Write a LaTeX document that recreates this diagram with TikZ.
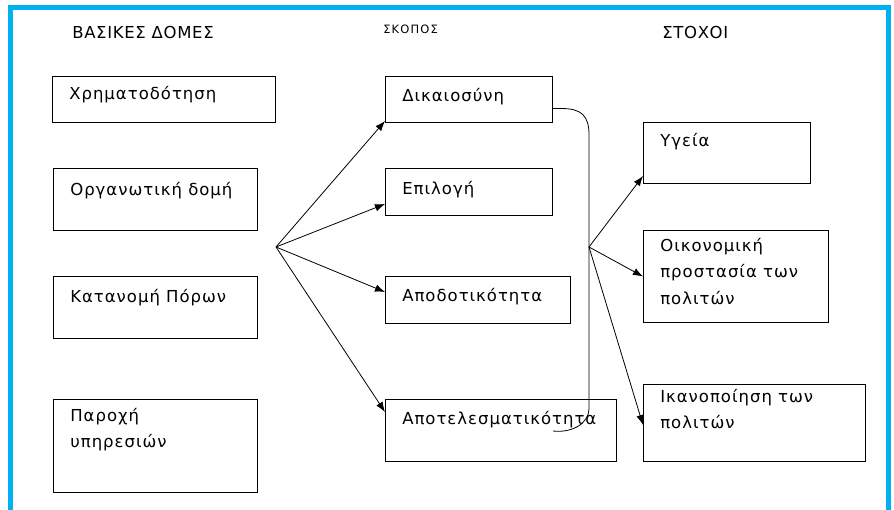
\documentclass[tikz,border=0pt]{standalone}
\usepackage{fontspec}
\setmainfont{DejaVu Sans}
\newfontfamily\boxfont[LetterSpace=6]{DejaVu Sans}
\newfontfamily\headfont[LetterSpace=4]{DejaVu Sans}
\newfontfamily\smallfont[LetterSpace=10]{DejaVu Sans}
\usetikzlibrary{arrows.meta,calc,positioning}
\definecolor{framecol}{RGB}{0,176,240}

\begin{document}
\begin{tikzpicture}[x=1pt,y=-1pt,>={Latex[length=10pt,width=7.5pt]},semithick]
\tikzstyle{box}=[draw, anchor=north west, inner sep=0pt, line width=1pt]
\tikzstyle{txt}=[anchor=north west, align=left, inner sep=0pt,
  font=\boxfont\fontsize{16.5}{26.5}\selectfont, execute at begin node=\strut]
\tikzstyle{head}=[anchor=base west, inner sep=0pt, font=\headfont\fontsize{16.5}{19}\selectfont]
\tikzstyle{arr}=[->, line width=0.8pt]

\useasboundingbox (0,0) rectangle (894,510);
\draw[framecol, line width=5pt] (10.5,515) |- (888,7.5) -- (888,515);

% headings
\node[head] (hbas) at (72,39) {ΒΑΣΙΚΕΣ ΔΟΜΕΣ};
\node[head, font=\smallfont\fontsize{11.5}{13}\selectfont] (hsko) at (383,34) {ΣΚΟΠΟΣ};
\node[head] (hsto) at (662,39) {ΣΤΟΧΟΙ};

% basic structures
\node[box, minimum width=223, minimum height=46] (xrim) at (52,76) {};
\node[box, minimum width=204, minimum height=62] (orga) at (53,168) {};
\node[box, minimum width=204, minimum height=62] (kata) at (53,276) {};
\node[box, minimum width=204, minimum height=93] (paro) at (53,399) {};
\node[txt] (xrim-t) at ($(xrim.north west)+(17,5)$) {Χρηματοδότηση};
\node[txt] (orga-t) at ($(orga.north west)+(17,9)$) {Οργανωτική δομή};
\node[txt] (kata-t) at ($(kata.north west)+(17,8)$) {Κατανομή Πόρων};
\node[txt] (paro-t) at ($(paro.north west)+(17,9)$) {Παροχή\\υπηρεσιών};

% aims
\node[box, minimum width=167, minimum height=46] (dika) at (385,76) {};
\node[box, minimum width=167, minimum height=47] (epil) at (385,168) {};
\node[box, minimum width=185, minimum height=47] (apod) at (385,276) {};
\node[box, minimum width=231, minimum height=62] (apot) at (385,399) {};
\node[txt] (dika-t) at ($(dika.north west)+(17,7)$) {Δικαιοσύνη};
\node[txt] (epil-t) at ($(epil.north west)+(17,8)$) {Επιλογή};
\node[txt] (apod-t) at ($(apod.north west)+(17,7)$) {Αποδοτικότητα};
\node[txt] (apot-t) at ($(apot.north west)+(17,7)$) {Αποτελεσματικότητα};

% goals
\node[box, minimum width=167, minimum height=61] (ygei) at (643,122) {};
\node[box, minimum width=185, minimum height=92] (oiko) at (643,230) {};
\node[box, minimum width=222, minimum height=77] (ikan) at (643,384) {};
\node[txt] (ygei-t) at ($(ygei.north west)+(17,6)$) {Υγεία};
\node[txt] (oiko-t) at ($(oiko.north west)+(17,8)$) {Οικονομική\\προστασία των\\πολιτών};
\node[txt] (ikan-t) at ($(ikan.north west)+(17,5)$) {Ικανοποίηση των\\πολιτών};

\coordinate (fan1) at (276,247);
\coordinate (fan2) at (589,247);
\coordinate (cend) at (553,431);

\draw[arr] (fan1) -- ([yshift=2pt]dika.south west);
\draw[arr] (fan1) -- ([yshift=12pt]epil.south west);
\draw[arr] (fan1) -- ([yshift=-16pt]apod.north west);
\draw[arr] (fan1) -- ([yshift=-13pt]apot.north west);

\draw[line width=0.8pt] ([yshift=-9pt]dika.east) -- ++(8,0)
  .. controls +(20,0) and (589,115) .. (589,135) -- (589,408)
  .. controls (589,425) and (570,433) .. (cend);

\draw[arr] (fan2) -- ([yshift=8pt]ygei.south west);
\draw[arr] (fan2) -- (oiko.west);
\draw[arr] (fan2) -- ([yshift=-41pt]ikan.north west);
\end{tikzpicture}
\end{document}
